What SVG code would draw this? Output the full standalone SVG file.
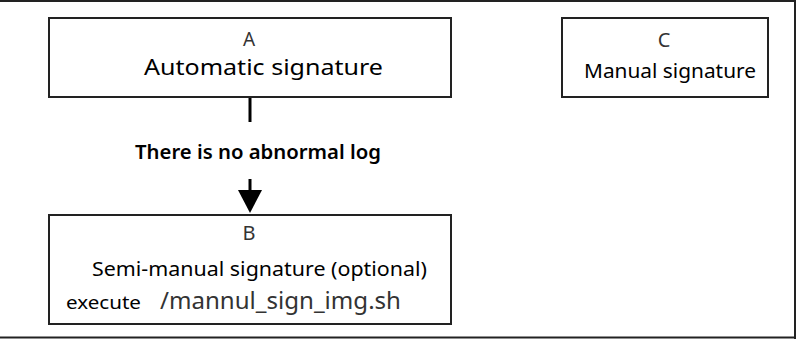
<svg xmlns="http://www.w3.org/2000/svg" width="796" height="339" viewBox="0 0 796 339">
<style>
.box{fill:#fff;stroke:#222;stroke-width:2}
.t{font-family:"Noto Sans","Open Sans","Liberation Sans",sans-serif;fill:#000}
.g{font-family:"Noto Sans","Open Sans","Liberation Sans",sans-serif;fill:#333}
.c{stroke:#000;stroke-width:3;fill:none}
</style>
<rect width="796" height="339" fill="#fff"/>
<g id="frame" stroke="#222" stroke-width="2" fill="none">
<line x1="0" y1="1" x2="796" y2="1"/>
<line x1="795" y1="0" x2="795" y2="339"/>
<line x1="0" y1="337.5" x2="796" y2="337.5"/>
</g>
<g id="connectors">
<line class="c" x1="250" y1="97" x2="250" y2="122"/>
<line class="c" x1="250" y1="179" x2="250" y2="192"/>
<path d="M238,190 L262,190 L250,213 Z" fill="#000"/>
<text class="t" x="258" y="159" font-size="20" font-weight="600" text-anchor="middle" textLength="246" lengthAdjust="spacingAndGlyphs">There is no abnormal log</text>
</g>
<g id="nodeA">
<rect class="box" x="49" y="18" width="402" height="79"/>
<text class="g" x="249" y="46" font-size="19" text-anchor="middle">A</text>
<text class="t" x="144" y="75" font-size="22" textLength="239" lengthAdjust="spacingAndGlyphs">Automatic signature</text>
</g>
<g id="nodeC">
<rect class="box" x="562" y="18" width="206" height="79"/>
<text class="g" x="664" y="47" font-size="20" text-anchor="middle">C</text>
<text class="t" x="584" y="78" font-size="19" textLength="172" lengthAdjust="spacingAndGlyphs">Manual signature</text>
</g>
<g id="nodeB">
<rect class="box" x="49" y="215" width="402" height="109"/>
<text class="g" x="249" y="240" font-size="20" text-anchor="middle">B</text>
<text class="t" x="92" y="276" font-size="20" textLength="335" lengthAdjust="spacingAndGlyphs">Semi-manual signature (optional)</text>
<text class="t" x="66" y="309" font-size="18" textLength="75" lengthAdjust="spacingAndGlyphs">execute</text>
<text class="g" x="160" y="309" font-size="23" textLength="241" lengthAdjust="spacingAndGlyphs">/mannul_sign_img.sh</text>
</g>
</svg>
